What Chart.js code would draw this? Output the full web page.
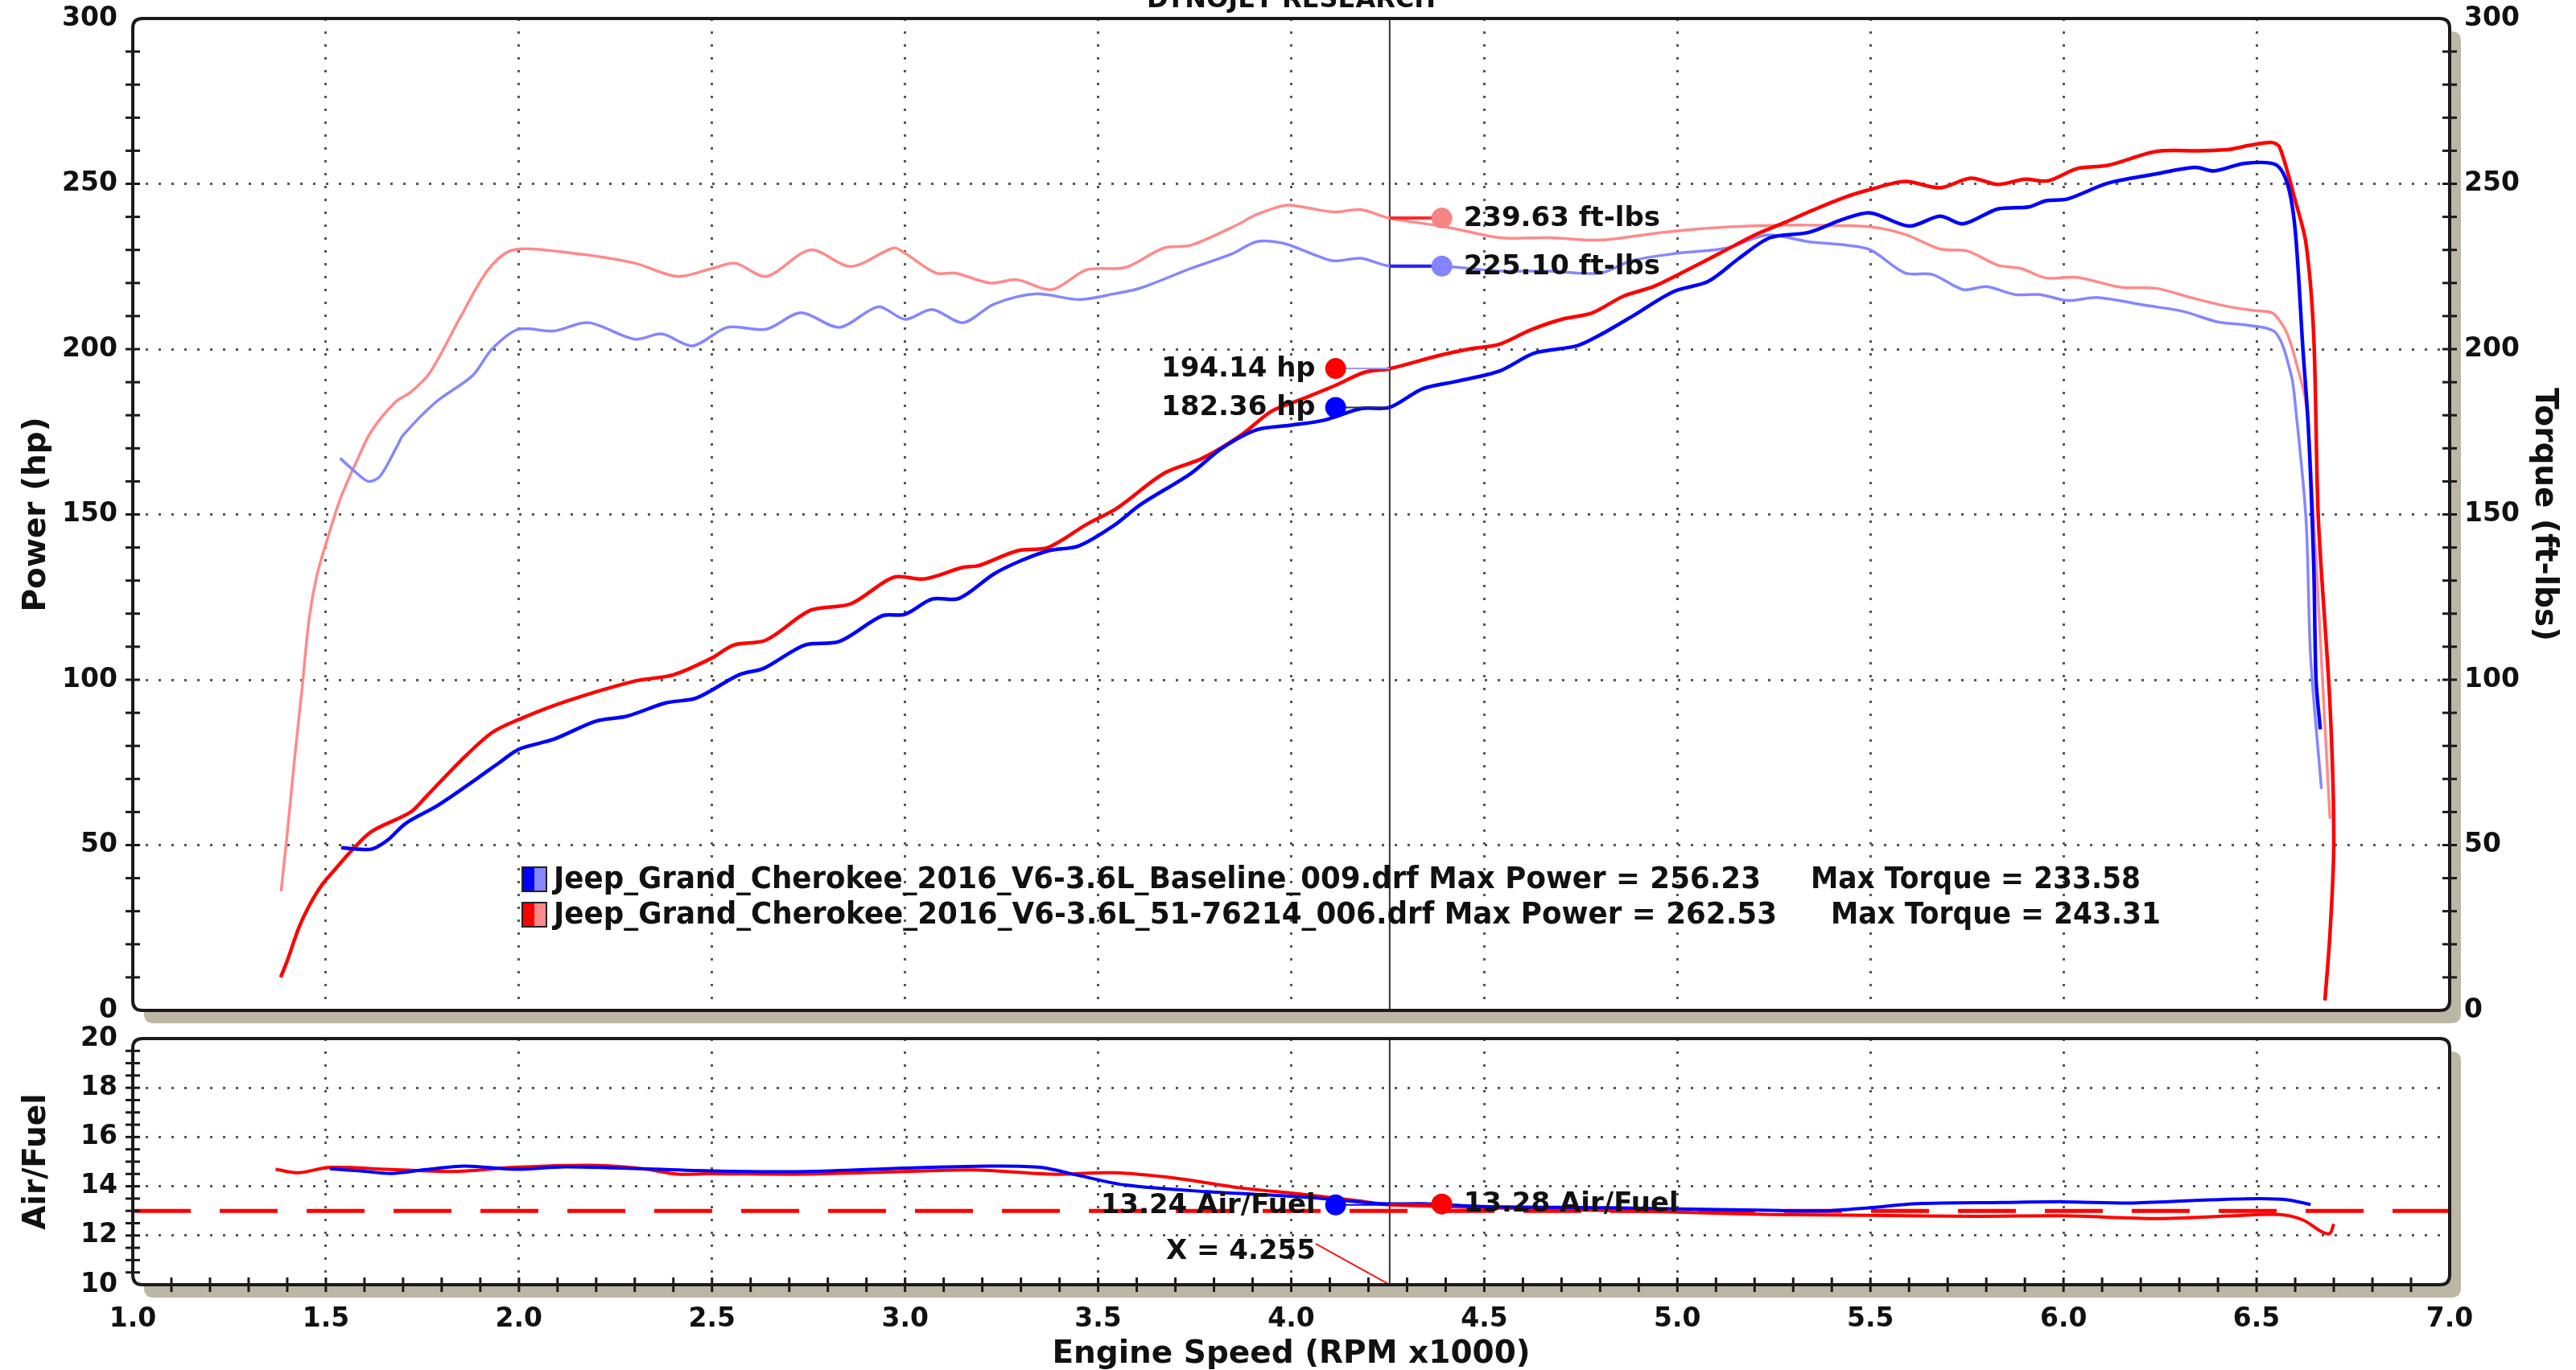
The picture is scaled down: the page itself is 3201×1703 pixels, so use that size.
<!DOCTYPE html>
<html>
<head>
<meta charset="utf-8">
<title>Dynojet Research - Jeep Grand Cherokee 2016 V6-3.6L</title>
<script src="https://cdn.jsdelivr.net/npm/chart.js@4.4.1/dist/chart.umd.min.js"></script>
<style>
  body { margin: 0; background: #fff; }
  #wrap { position: relative; width: 3201px; height: 1703px; }
  canvas { position: absolute; left: 0; }
</style>
</head>
<body>
<div id="wrap">
  <canvas id="dyno" width="3201" height="1276" style="top:0"></canvas>
  <canvas id="afr" width="3201" height="432" style="top:1271px"></canvas>
</div>
<script>
// --- run names / legend ---
const baseRun = 'Jeep_Grand_Cherokee_2016_V6-3.6L_Baseline_009.drf';
const modRun = 'Jeep_Grand_Cherokee_2016_V6-3.6L_51-76214_006.drf';
const maxPower = [256.23, 262.53];
const maxTorque = [233.58, 243.31];

// --- cursor readout ---
const cursorRpm = 4.255;
const powerMarkRpm = 4.115;
const torqueMarkRpm = 4.39;
const cursorPower = [182.36, 194.14];   // baseline, modified
const cursorTorque = [225.10, 239.63];
const cursorAfr = [13.24, 13.28];
const afrTarget = 13.0;

// --- baseline power (hp) ---
const basePowerRpm = [1.54, 1.58, 1.62, 1.66, 1.706, 1.79, 1.89, 1.95, 2.0, 2.09, 2.2, 2.28, 2.38, 2.46, 2.57, 2.635, 2.74, 2.83, 2.94, 3.0, 3.07, 3.14, 3.23, 3.3, 3.37, 3.45, 3.54, 3.61, 3.74, 3.82, 3.91, 4.0, 4.085, 4.18, 4.255, 4.34, 4.43, 4.54, 4.63, 4.74, 4.8, 4.88, 4.99, 5.08, 5.16, 5.24, 5.34, 5.43, 5.5, 5.6, 5.68, 5.74, 5.83, 5.91, 5.955, 6.01, 6.115, 6.23, 6.34, 6.39, 6.47, 6.55, 6.58, 6.6, 6.62, 6.634, 6.648, 6.654, 6.665];
const basePowerHp = [49.2, 48.8, 48.8, 51.5, 56.5, 62, 70, 75, 79, 82, 87.5, 89, 93, 94.5, 101.5, 103.5, 110.5, 111.6, 119.3, 119.8, 124.4, 124.6, 132, 136, 139, 140.5, 146.6, 153, 162.4, 170, 175.6, 177, 178.5, 182, 182.4, 188, 190.3, 193.4, 198.8, 201, 204.3, 209.7, 217.4, 220.5, 227.5, 233.7, 235.3, 239.3, 241.2, 237.2, 240.2, 237.9, 242.4, 243, 244.9, 245.4, 250.2, 252.8, 255, 253.9, 256.2, 255.8, 250, 236, 200, 176.5, 134.6, 100, 85];

// --- modified power (hp) ---
const modPowerRpm = [1.383, 1.4, 1.43, 1.457, 1.49, 1.53, 1.564, 1.617, 1.72, 1.76, 1.85, 1.93, 2.0, 2.12, 2.3, 2.4, 2.5, 2.556, 2.64, 2.755, 2.86, 2.97, 3.05, 3.15, 3.19, 3.29, 3.37, 3.47, 3.55, 3.67, 3.77, 3.87, 3.95, 4.03, 4.11, 4.19, 4.255, 4.38, 4.46, 4.54, 4.62, 4.7, 4.78, 4.86, 4.94, 5.02, 5.11, 5.2, 5.28, 5.35, 5.43, 5.5, 5.59, 5.68, 5.76, 5.83, 5.9, 5.96, 6.035, 6.115, 6.24, 6.35, 6.43, 6.48, 6.54, 6.56, 6.6, 6.628, 6.648, 6.66, 6.69, 6.7, 6.69, 6.677];
const modPowerHp = [10, 15, 25, 31.7, 38, 43.5, 48, 54, 60, 64.7, 75.6, 84, 88, 93.4, 99.6, 101.5, 106.6, 110.5, 112, 121, 123, 131, 130.5, 134, 134.5, 139, 140, 147, 152, 162.4, 167, 174, 181.3, 185, 188.8, 193, 194.1, 198, 200, 201.5, 205.8, 209, 211, 216, 219, 223.6, 229, 234.5, 238.4, 242, 245.8, 248.3, 250.7, 248.8, 251.7, 249.8, 251.4, 250.9, 254.6, 255.6, 259.8, 260, 260.4, 261.6, 262.5, 261, 245, 232, 204, 148.6, 92.7, 51, 23, 3];

// --- baseline torque (ft-lbs) ---
const baseTorqueRpm = [1.537, 1.575, 1.61, 1.64, 1.686, 1.7, 1.785, 1.88, 1.93, 1.998, 2.09, 2.18, 2.3, 2.37, 2.45, 2.54, 2.64, 2.73, 2.83, 2.93, 3.0, 3.07, 3.15, 3.23, 3.34, 3.45, 3.54, 3.61, 3.74, 3.85, 3.91, 3.98, 4.05, 4.11, 4.18, 4.255, 4.4, 4.54, 4.67, 4.8, 4.88, 5.0, 5.13, 5.23, 5.34, 5.44, 5.5, 5.59, 5.66, 5.74, 5.8, 5.875, 5.94, 6.01, 6.09, 6.21, 6.31, 6.4, 6.48, 6.55, 6.59, 6.6, 6.628, 6.64, 6.668];
const baseTorqueFt = [167, 163, 160, 161.5, 171, 174, 184, 192, 200, 206, 205.5, 208, 203, 204.6, 201, 206.6, 206, 211, 206.6, 212.8, 209, 212, 208, 213.6, 216.7, 215, 216.7, 218.5, 224.4, 229, 232.5, 232, 229, 226.7, 227.5, 225.1, 225, 223.6, 223.6, 223, 226.7, 229, 230.6, 234.5, 232.5, 231.4, 230, 223, 222.6, 218, 218.9, 216.5, 216.5, 214.7, 215.6, 213.3, 211.4, 208.2, 207.2, 204.9, 192, 183.5, 148.6, 106.7, 67];

// --- modified torque (ft-lbs) ---
const modTorqueRpm = [1.384, 1.4, 1.418, 1.438, 1.457, 1.477, 1.504, 1.537, 1.577, 1.617, 1.68, 1.72, 1.77, 1.85, 1.92, 1.985, 2.14, 2.3, 2.41, 2.5, 2.56, 2.64, 2.755, 2.86, 2.97, 3.0, 3.08, 3.13, 3.22, 3.29, 3.38, 3.47, 3.57, 3.67, 3.74, 3.86, 3.91, 3.985, 4.03, 4.11, 4.18, 4.255, 4.4, 4.54, 4.67, 4.8, 4.94, 5.07, 5.2, 5.34, 5.5, 5.59, 5.68, 5.75, 5.83, 5.89, 5.955, 6.035, 6.15, 6.24, 6.33, 6.43, 6.5, 6.54, 6.56, 6.58, 6.6, 6.628, 6.648, 6.674, 6.69];
const modTorqueFt = [36, 53.5, 75, 97, 118.7, 131.7, 142.6, 154.6, 165.4, 175, 184, 187, 193, 210, 224, 230, 229, 226, 222, 224.4, 226, 222, 230, 225, 230.6, 229, 223, 223, 220, 221, 218, 224, 224.7, 230.6, 231.4, 237.6, 240.7, 243.5, 243, 241.5, 242.2, 239.6, 237, 233.7, 233.7, 233, 235, 236.5, 237.3, 237.5, 237, 234.7, 230.3, 229.7, 225.4, 224.4, 221.5, 221.7, 218.7, 218.4, 215.6, 212.8, 211.6, 211, 208.6, 204.5, 197, 183.5, 148.6, 92.7, 58];

// --- air/fuel ratio ---
const baseAfrRpm = [1.51, 1.59, 1.67, 1.76, 1.86, 1.99, 2.12, 2.32, 2.52, 2.745, 3.0, 3.22, 3.35, 3.45, 3.57, 3.78, 4.02, 4.12, 4.24, 4.34, 4.5, 4.82, 5.245, 5.38, 5.5, 5.62, 5.84, 6.0, 6.18, 6.38, 6.51, 6.58, 6.64];
const baseAfr = [14.71, 14.62, 14.52, 14.68, 14.82, 14.69, 14.79, 14.71, 14.62, 14.6, 14.74, 14.82, 14.77, 14.44, 14.05, 13.78, 13.58, 13.45, 13.29, 13.29, 13.18, 13.13, 13.02, 13.0, 13.13, 13.29, 13.34, 13.37, 13.32, 13.45, 13.5, 13.45, 13.26];
const modAfrRpm = [1.37, 1.43, 1.51, 1.66, 1.83, 1.99, 2.19, 2.32, 2.41, 2.49, 2.745, 3.0, 3.19, 3.38, 3.54, 3.7, 3.86, 4.02, 4.18, 4.24, 4.4, 4.66, 4.98, 5.245, 5.5, 5.78, 6.0, 6.24, 6.44, 6.56, 6.62, 6.67, 6.69, 6.7];
const modAfr = [14.69, 14.55, 14.77, 14.69, 14.6, 14.77, 14.85, 14.71, 14.49, 14.51, 14.49, 14.6, 14.66, 14.49, 14.55, 14.33, 13.95, 13.69, 13.4, 13.26, 13.18, 13.07, 12.96, 12.85, 12.82, 12.78, 12.8, 12.69, 12.8, 12.85, 12.63, 12.14, 12.09, 12.47];

const BLUE = '#0000ff', RED = '#ff0000';
const LBLUE = '#8686ff', LRED = '#ff8a8a';
const FONT = 'DejaVu Sans';

Chart.defaults.font.family = FONT;
Chart.defaults.font.weight = 'bold';
Chart.defaults.color = '#111';

const pts = (xs, ys) => xs.map((x, i) => ({ x, y: ys[i] }));
const tickFont = { size: 33, weight: 'bold' };
// tiny line height so the vertical axes don't push the plot area in
const tickFontV = { size: 33, weight: 'bold', lineHeight: 0.01 };
const titleFont = { size: 39, weight: 'bold', lineHeight: 1 };
const hide = (lo, hi) => (c) => (c.tick && (c.tick.value <= lo || c.tick.value >= hi)) ? 'rgba(0,0,0,0)' : '#555';

function roundRect(ctx, x, y, w, h, r) {
  ctx.beginPath();
  ctx.moveTo(x + r, y);
  ctx.lineTo(x + w - r, y);
  ctx.quadraticCurveTo(x + w, y, x + w, y + r);
  ctx.lineTo(x + w, y + h - r);
  ctx.quadraticCurveTo(x + w, y + h, x + w - r, y + h);
  ctx.lineTo(x + r, y + h);
  ctx.quadraticCurveTo(x, y + h, x, y + h - r);
  ctx.lineTo(x, y + r);
  ctx.quadraticCurveTo(x, y, x + r, y);
  ctx.closePath();
}

// panel background, shadow, frame and small tick marks
const panelFrame = {
  id: 'panelFrame',
  beforeDraw(chart) {
    const { ctx, chartArea: a } = chart;
    ctx.save();
    roundRect(ctx, a.left + 14, a.top + 16, a.width, a.height, 12);
    ctx.fillStyle = '#bcb6a5';
    ctx.fill();
    roundRect(ctx, a.left, a.top, a.width, a.height, 12);
    ctx.fillStyle = '#fff';
    ctx.fill();
    ctx.restore();
  },
  afterDraw(chart, args, opts) {
    const { ctx, chartArea: a } = chart;
    ctx.save();
    ctx.strokeStyle = '#1a1a1a';
    ctx.lineWidth = 3;
    const side = (t, x) => {
      const s = chart.scales[t.scale];
      const n = Math.round((s.max - s.min) / t.step);
      for (let i = 1; i < n; i++) {
        const y = s.getPixelForValue(s.min + i * t.step);
        ctx.beginPath(); ctx.moveTo(x - 9, y); ctx.lineTo(x + 9, y); ctx.stroke();
      }
    };
    if (opts.left) side(opts.left, a.left);
    if (opts.right) side(opts.right, a.right);
    if (opts.bottom) {
      const s = chart.scales[opts.bottom.scale];
      const n = Math.round((s.max - s.min) / opts.bottom.step);
      for (let i = 1; i < n; i++) {
        const x = s.getPixelForValue(s.min + i * opts.bottom.step);
        ctx.beginPath(); ctx.moveTo(x, a.bottom - 9); ctx.lineTo(x, a.bottom + 9); ctx.stroke();
      }
    }
    ctx.lineWidth = 4;
    roundRect(ctx, a.left, a.top, a.width, a.height, 12);
    ctx.stroke();
    ctx.restore();
  }
};

// vertical cursor line
const cursorLine = {
  id: 'cursorLine',
  beforeDatasetsDraw(chart) {
    const { ctx, chartArea: a } = chart;
    const x = chart.scales.x.getPixelForValue(cursorRpm);
    ctx.save();
    ctx.strokeStyle = '#333';
    ctx.lineWidth = 2;
    ctx.beginPath(); ctx.moveTo(x, a.top); ctx.lineTo(x, a.bottom); ctx.stroke();
    ctx.restore();
  }
};

// value labels next to the marker dots
const markLabels = {
  id: 'markLabels',
  afterDatasetsDraw(chart) {
    const { ctx } = chart;
    ctx.save();
    ctx.font = 'bold 34px ' + FONT;
    ctx.fillStyle = '#111';
    ctx.textBaseline = 'middle';
    chart.data.datasets.forEach((ds, i) => {
      if (!ds.markText) return;
      const p = chart.getDatasetMeta(i).data[1];
      if (ds.markSide === 'right') {
        ctx.textAlign = 'left';
        ctx.fillText(ds.markText, p.x + 27, p.y + 1);
      } else {
        ctx.textAlign = 'right';
        ctx.fillText(ds.markText, p.x - 25, p.y + 1);
      }
    });
    ctx.restore();
  }
};

const marker = (rpm, val, axis, text, side, dot, line, lw) => ({
  data: [{ x: cursorRpm, y: val }, { x: rpm, y: val }],
  yAxisID: axis,
  borderColor: line,
  borderWidth: lw,
  pointRadius: [0, 13],
  pointBackgroundColor: dot,
  pointBorderWidth: 0,
  markText: text,
  markSide: side,
});

// legend and heading for the power/torque panel
const dynoLegend = {
  id: 'dynoLegend',
  afterDraw(chart) {
    const { ctx, chartArea: a } = chart;
    ctx.save();
    ctx.font = 'bold 32px ' + FONT;
    ctx.textAlign = 'center';
    ctx.textBaseline = 'alphabetic';
    ctx.fillStyle = '#111';
    ctx.fillText('DYNOJET RESEARCH', (a.left + a.right) / 2, 9);

    const rows = [
      { run: baseRun, p: maxPower[0], t: maxTorque[0], c1: BLUE, c2: LBLUE, tx: 2250, w: 1500 },
      { run: modRun, p: maxPower[1], t: maxTorque[1], c1: RED, c2: LRED, tx: 2275, w: 1520 },
    ];
    ctx.font = 'bold 37px ' + FONT;
    ctx.textAlign = 'left';
    ctx.textBaseline = 'middle';
    rows.forEach((r, i) => {
      const y = a.bottom - 163 + i * 44;
      const sx = a.left + 484;
      ctx.fillStyle = r.c1; ctx.fillRect(sx, y - 15, 15, 30);
      ctx.fillStyle = r.c2; ctx.fillRect(sx + 15, y - 15, 15, 30);
      ctx.strokeStyle = '#222'; ctx.lineWidth = 2; ctx.strokeRect(sx, y - 15, 30, 30);
      ctx.fillStyle = '#111';
      ctx.fillText(r.run + ' Max Power = ' + r.p.toFixed(2), sx + 39, y + 1, r.w);
      ctx.fillText('Max Torque = ' + r.t.toFixed(2), r.tx, y + 1, 410);
    });
    ctx.restore();
  }
};

// "X = 4.255" readout for the A/F panel
const xReadout = {
  id: 'xReadout',
  afterDatasetsDraw(chart) {
    const { ctx, chartArea: a } = chart;
    const cx = chart.scales.x.getPixelForValue(cursorRpm);
    ctx.save();
    ctx.font = 'bold 34px ' + FONT;
    ctx.fillStyle = '#111';
    ctx.textAlign = 'right';
    ctx.textBaseline = 'middle';
    ctx.fillText('X = ' + cursorRpm.toFixed(3), cx - 92, a.bottom - 41);
    ctx.strokeStyle = RED;
    ctx.lineWidth = 2;
    ctx.beginPath(); ctx.moveTo(cx - 92, a.bottom - 51); ctx.lineTo(cx, a.bottom); ctx.stroke();
    ctx.restore();
  }
};

const xGrid = { color: hide(1, 7), lineWidth: 3, drawTicks: false };
const dots = { display: false, dash: [3, 13] };

new Chart(document.getElementById('dyno'), {
  type: 'line',
  data: {
    datasets: [
      marker(torqueMarkRpm, cursorTorque[1], 'y1', cursorTorque[1].toFixed(2) + ' ft-lbs', 'right', '#f58585', '#ff2a2a', 4),
      marker(torqueMarkRpm, cursorTorque[0], 'y1', cursorTorque[0].toFixed(2) + ' ft-lbs', 'right', '#8484ff', '#2222ff', 4),
      marker(powerMarkRpm, cursorPower[1], 'y', cursorPower[1].toFixed(2) + ' hp', 'left', RED, '#9a9aff', 2),
      marker(powerMarkRpm, cursorPower[0], 'y', cursorPower[0].toFixed(2) + ' hp', 'left', BLUE, '#333', 2),
      { data: pts(basePowerRpm, basePowerHp), yAxisID: 'y', borderColor: BLUE, borderWidth: 4.5 },
      { data: pts(modPowerRpm, modPowerHp), yAxisID: 'y', borderColor: RED, borderWidth: 4.5 },
      { data: pts(baseTorqueRpm, baseTorqueFt), yAxisID: 'y1', borderColor: LBLUE, borderWidth: 3.5 },
      { data: pts(modTorqueRpm, modTorqueFt), yAxisID: 'y1', borderColor: LRED, borderWidth: 3.5 },
    ]
  },
  options: {
    responsive: false,
    animation: false,
    devicePixelRatio: 1,
    layout: { padding: { top: 23, left: 0, right: 0, bottom: 0 } },
    elements: { point: { radius: 0 }, line: { tension: 0.3, fill: false } },
    scales: {
      x: {
        type: 'linear', min: 1, max: 7,
        afterFit: (s) => { s.height = 20; },
        ticks: { display: false, stepSize: 0.5 },
        grid: xGrid, border: dots,
      },
      y: {
        position: 'left', min: 0, max: 300,
        afterFit: (s) => { s.width = 165; },
        ticks: { stepSize: 50, padding: 19, font: tickFontV, color: '#111' },
        grid: { color: hide(0, 300), lineWidth: 3, drawTicks: false },
        border: dots,
        title: { display: true, text: 'Power (hp)', font: titleFont, color: '#111', padding: { top: 26 } },
      },
      y1: {
        position: 'right', min: 0, max: 300,
        afterFit: (s) => { s.width = 157; },
        ticks: { stepSize: 50, padding: 18, font: tickFontV, color: '#111' },
        grid: { drawOnChartArea: false, drawTicks: false },
        border: { display: false },
        title: { display: true, text: 'Torque (ft-lbs)', font: titleFont, color: '#111', padding: { top: 20 } },
      },
    },
    plugins: {
      legend: { display: false },
      tooltip: { enabled: false },
      panelFrame: { left: { scale: 'y', step: 10 }, right: { scale: 'y1', step: 10 } },
    },
  },
  plugins: [panelFrame, cursorLine, markLabels, dynoLegend],
});

new Chart(document.getElementById('afr'), {
  type: 'line',
  data: {
    datasets: [
      marker(powerMarkRpm, cursorAfr[0], 'y', cursorAfr[0].toFixed(2) + ' Air/Fuel', 'left', BLUE, BLUE, 2),
      marker(torqueMarkRpm, cursorAfr[1], 'y', cursorAfr[1].toFixed(2) + ' Air/Fuel', 'right', RED, RED, 2),
      { data: pts(baseAfrRpm, baseAfr), borderColor: BLUE, borderWidth: 4 },
      { data: pts(modAfrRpm, modAfr), borderColor: RED, borderWidth: 4 },
      { data: [{ x: 1, y: afrTarget }, { x: 7, y: afrTarget }], borderColor: RED, borderWidth: 5, borderDash: [72, 36], tension: 0 },
    ]
  },
  options: {
    responsive: false,
    animation: false,
    devicePixelRatio: 1,
    layout: { padding: { top: 20, left: 0, right: 157, bottom: 0 } },
    elements: { point: { radius: 0 }, line: { tension: 0.3, fill: false } },
    scales: {
      x: {
        type: 'linear', min: 1, max: 7,
        afterFit: (s) => { s.height = 106; },
        ticks: { stepSize: 0.5, padding: 24, font: tickFont, color: '#111', maxRotation: 0, autoSkip: false, callback: (v) => v.toFixed(1) },
        grid: xGrid, border: dots,
        title: { display: true, text: 'Engine Speed (RPM x1000)', font: titleFont, color: '#111', padding: { top: 0, bottom: 0 } },
      },
      y: {
        position: 'left', min: 10, max: 20,
        afterFit: (s) => { s.width = 165; },
        ticks: { stepSize: 2, padding: 19, font: tickFontV, color: '#111' },
        grid: { color: hide(10, 20), lineWidth: 3, drawTicks: false },
        border: dots,
        title: { display: true, text: 'Air/Fuel', font: titleFont, color: '#111', padding: { top: 26 } },
      },
    },
    plugins: {
      legend: { display: false },
      tooltip: { enabled: false },
      panelFrame: { left: { scale: 'y', step: 0.5 }, bottom: { scale: 'x', step: 0.1 } },
    },
  },
  plugins: [panelFrame, cursorLine, markLabels, xReadout],
});
</script>
</body>
</html>
